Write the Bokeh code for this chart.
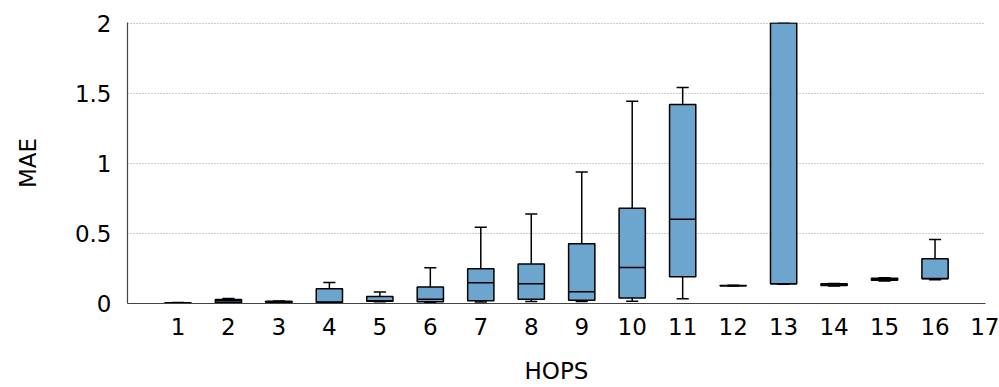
from bokeh.plotting import figure
from bokeh.models import Range1d, FixedTicker, CustomJSTickFormatter, ColumnDataSource
from bokeh.embed import file_html
from bokeh.resources import INLINE

hops = [1, 2, 3, 4, 5, 6, 7, 8, 9, 10, 11, 12, 13, 14, 15, 16]
lower = [0.002, 0.005, 0.006, 0.005, 0.012, 0.005, 0.01, 0.015, 0.015, 0.016, 0.033, 0.125, 0.138, 0.124, 0.16, 0.17]
q1 = [0.003, 0.008, 0.008, 0.008, 0.016, 0.012, 0.02, 0.03, 0.024, 0.04, 0.19, 0.126, 0.14, 0.128, 0.165, 0.176]
median = [0.004, 0.02, 0.012, 0.01, 0.02, 0.03, 0.148, 0.14, 0.083, 0.257, 0.6, 0.127, 0.14, 0.132, 0.172, 0.178]
q3 = [0.006, 0.028, 0.016, 0.105, 0.05, 0.117, 0.248, 0.281, 0.426, 0.679, 1.42, 0.128, 2.0, 0.14, 0.18, 0.319]
upper = [0.008, 0.035, 0.018, 0.15, 0.082, 0.255, 0.543, 0.638, 0.938, 1.443, 1.54, 0.13, 2.0, 0.142, 0.184, 0.457]
x_ticks = list(range(1, 18))
y_ticks = [0, 0.5, 1, 1.5, 2]

FONT = "DejaVu Sans"
BOX_W = 0.52
CAP_W = 0.24

src = ColumnDataSource(dict(
    x=hops, lower=lower, q1=q1, median=median, q3=q3, upper=upper,
    xl=[h - BOX_W / 2 for h in hops], xr=[h + BOX_W / 2 for h in hops],
    cl=[h - CAP_W / 2 for h in hops], cr=[h + CAP_W / 2 for h in hops],
))

p = figure(width=999, height=387, output_backend="svg", toolbar_location=None,
           x_range=Range1d(0, 17), y_range=Range1d(0, 2.004),
           min_border_left=127, min_border_right=14, min_border_top=22, min_border_bottom=84)
p.outline_line_color = None
p.background_fill_color = "white"
p.border_fill_color = "white"

# whiskers
p.segment(x0="x", y0="q3", x1="x", y1="upper", source=src, line_color="black", line_width=1.5)
p.segment(x0="x", y0="q1", x1="x", y1="lower", source=src, line_color="black", line_width=1.5)
p.segment(x0="cl", y0="upper", x1="cr", y1="upper", source=src, line_color="black", line_width=1.5)
p.segment(x0="cl", y0="lower", x1="cr", y1="lower", source=src, line_color="black", line_width=1.5)
# boxes
p.vbar(x="x", width=BOX_W, bottom="q1", top="q3", source=src,
       fill_color="#6ca6cf", line_color="black", line_width=1.5)
p.segment(x0="xl", y0="median", x1="xr", y1="median", source=src, line_color="black", line_width=1.5)

p.xgrid.grid_line_color = None
p.ygrid.grid_line_color = "#999999"
p.ygrid.grid_line_dash = "1 2"
p.ygrid.grid_line_width = 1

p.xaxis.ticker = FixedTicker(ticks=x_ticks)
p.yaxis.ticker = FixedTicker(ticks=y_ticks)
p.yaxis.formatter = CustomJSTickFormatter(code="return String(tick)")

for ax in (p.xaxis[0], p.yaxis[0]):
    ax.major_tick_out = 0
    ax.major_tick_in = 0
    ax.minor_tick_out = 0
    ax.minor_tick_in = 0
    ax.axis_line_color = "#444444"
    ax.axis_line_width = 1.2
    ax.major_label_text_font = FONT
    ax.major_label_text_font_size = "23px"
    ax.major_label_text_color = "black"
    ax.axis_label_text_font = FONT
    ax.axis_label_text_font_size = "23px"
    ax.axis_label_text_font_style = "normal"
    ax.axis_label_text_color = "black"

p.xaxis.axis_label = "HOPS"
p.yaxis.axis_label = "MAE"
p.xaxis.major_label_standoff = 14
p.xaxis.axis_label_standoff = 20
p.yaxis.major_label_standoff = 16
p.yaxis.axis_label_standoff = 31

open("out.html", "w").write(file_html(p, INLINE))
